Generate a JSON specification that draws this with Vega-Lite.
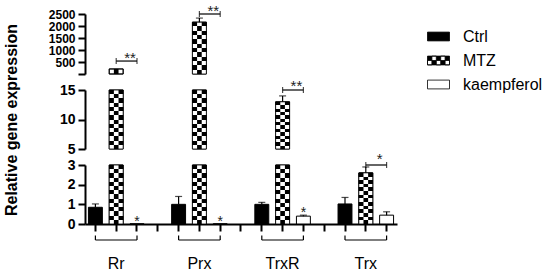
{
  "$schema": "https://vega.github.io/schema/vega-lite/v6.json",
  "background": "white",
  "padding": {"left": 3, "top": 4, "right": 0, "bottom": 0},
  "config": {
    "view": {"stroke": null},
    "font": "Liberation Sans",
    "axis": {"domainColor": "black", "domainWidth": 2, "tickColor": "black", "tickWidth": 2, "tickSize": 7, "labelFont": "Liberation Sans", "labelColor": "black", "grid": false, "titleFont": "Liberation Sans", "titleColor": "black"}
  },
  "datasets": {
    "bars": [
      {"gene": "Rr", "series": "Ctrl", "slot": "Rr Ctrl", "value": 0.85, "hi": 1.02},
      {"gene": "Rr", "series": "MTZ", "slot": "Rr MTZ", "value": 210, "hi": 210},
      {"gene": "Rr", "series": "kaempferol", "slot": "Rr kaempferol", "value": 0.01, "hi": 0.01, "sig": "*"},
      {"gene": "Prx", "series": "Ctrl", "slot": "Prx Ctrl", "value": 1.0, "hi": 1.4},
      {"gene": "Prx", "series": "MTZ", "slot": "Prx MTZ", "value": 2160, "hi": 2330},
      {"gene": "Prx", "series": "kaempferol", "slot": "Prx kaempferol", "value": 0.01, "hi": 0.01, "sig": "*"},
      {"gene": "TrxR", "series": "Ctrl", "slot": "TrxR Ctrl", "value": 1.0, "hi": 1.1},
      {"gene": "TrxR", "series": "MTZ", "slot": "TrxR MTZ", "value": 13.0, "hi": 14.0},
      {"gene": "TrxR", "series": "kaempferol", "slot": "TrxR kaempferol", "value": 0.4, "hi": 0.45, "sig": "*"},
      {"gene": "Trx", "series": "Ctrl", "slot": "Trx Ctrl", "value": 1.02, "hi": 1.35},
      {"gene": "Trx", "series": "MTZ", "slot": "Trx MTZ", "value": 2.6, "hi": 2.9},
      {"gene": "Trx", "series": "kaempferol", "slot": "Trx kaempferol", "value": 0.45, "hi": 0.62}
    ],
    "sig": [
      {"from": "Rr MTZ", "to": "Rr kaempferol", "level": 540, "label": "**"},
      {"from": "Prx MTZ", "to": "Prx kaempferol", "level": 2570, "label": "**"},
      {"from": "TrxR MTZ", "to": "TrxR kaempferol", "level": 15.1, "label": "**"},
      {"from": "Trx MTZ", "to": "Trx kaempferol", "level": 3.15, "label": "*"}
    ],
    "groups": [
      {"gene": "Rr", "from": "Rr Ctrl", "to": "Rr kaempferol"},
      {"gene": "Prx", "from": "Prx Ctrl", "to": "Prx kaempferol"},
      {"gene": "TrxR", "from": "TrxR Ctrl", "to": "TrxR kaempferol"},
      {"gene": "Trx", "from": "Trx Ctrl", "to": "Trx kaempferol"}
    ]
  },
  "spacing": 16,
  "bounds": "flush",
  "vconcat": [
    {
      "width": 312, "height": 60,
      "layer": [
        {
          "data": {"name": "bars"},
          "transform": [{"filter": "datum.value > 15"}],
          "mark": {"type": "bar", "stroke": "black", "strokeWidth": 1},
          "encoding": {
            "x": {"field": "slot", "type": "nominal", "scale": {"domain": ["Rr Ctrl","Rr MTZ","Rr kaempferol","g1","Prx Ctrl","Prx MTZ","Prx kaempferol","g2","TrxR Ctrl","TrxR MTZ","TrxR kaempferol","g3","Trx Ctrl","Trx MTZ","Trx kaempferol"], "paddingInner": 0.33, "paddingOuter": 0.165}, "axis": null},
            "y": {"field": "value", "type": "quantitative", "stack": null, "scale": {"domain": [0, 2500], "nice": false, "clamp": true}, "axis": {"title": null, "values": [0, 500, 1000, 1500, 2000, 2500], "tickCount": 20, "format": "d", "labelExpr": "datum.value == 0 ? '' : datum.label", "labelFontSize": 12, "labelFontWeight": "bold", "labelPadding": 3, "labelOverlap": false, "labelFlush": false}},
            "fill": {"condition": {"test": "datum.series == 'Ctrl'", "value": "black"}, "value": "white"}
          }
        },
        {
          "data": {"name": "bars"},
          "transform": [{"filter": "datum.series == 'MTZ' && datum.value > 1000"}],
          "mark": {"type": "bar", "fill": {"gradient": "linear", "x1": 0, "y1": 0, "x2": 0, "y2": 1, "stops": [
            {"offset": 0, "color": "#000"}, {"offset": 0.0833, "color": "#000"}, {"offset": 0.0833, "color": "#fff"}, {"offset": 0.1667, "color": "#fff"},
            {"offset": 0.1667, "color": "#000"}, {"offset": 0.25, "color": "#000"}, {"offset": 0.25, "color": "#fff"}, {"offset": 0.3333, "color": "#fff"},
            {"offset": 0.3333, "color": "#000"}, {"offset": 0.4167, "color": "#000"}, {"offset": 0.4167, "color": "#fff"}, {"offset": 0.5, "color": "#fff"},
            {"offset": 0.5, "color": "#000"}, {"offset": 0.5833, "color": "#000"}, {"offset": 0.5833, "color": "#fff"}, {"offset": 0.6667, "color": "#fff"},
            {"offset": 0.6667, "color": "#000"}, {"offset": 0.75, "color": "#000"}, {"offset": 0.75, "color": "#fff"}, {"offset": 0.8333, "color": "#fff"},
            {"offset": 0.8333, "color": "#000"}, {"offset": 0.9167, "color": "#000"}, {"offset": 0.9167, "color": "#fff"}, {"offset": 1, "color": "#fff"}]}},
          "encoding": {
            "x": {"field": "slot", "type": "nominal"},
            "y": {"field": "value", "type": "quantitative", "stack": null}
          }
        },
        {
          "data": {"name": "bars"},
          "transform": [{"filter": "datum.series == 'MTZ' && datum.value > 1000"}],
          "mark": {"type": "bar", "width": {"band": 0.3333}, "fill": {"gradient": "linear", "x1": 0, "y1": 0, "x2": 0, "y2": 1, "stops": [
            {"offset": 0, "color": "#fff"}, {"offset": 0.0833, "color": "#fff"}, {"offset": 0.0833, "color": "#000"}, {"offset": 0.1667, "color": "#000"},
            {"offset": 0.1667, "color": "#fff"}, {"offset": 0.25, "color": "#fff"}, {"offset": 0.25, "color": "#000"}, {"offset": 0.3333, "color": "#000"},
            {"offset": 0.3333, "color": "#fff"}, {"offset": 0.4167, "color": "#fff"}, {"offset": 0.4167, "color": "#000"}, {"offset": 0.5, "color": "#000"},
            {"offset": 0.5, "color": "#fff"}, {"offset": 0.5833, "color": "#fff"}, {"offset": 0.5833, "color": "#000"}, {"offset": 0.6667, "color": "#000"},
            {"offset": 0.6667, "color": "#fff"}, {"offset": 0.75, "color": "#fff"}, {"offset": 0.75, "color": "#000"}, {"offset": 0.8333, "color": "#000"},
            {"offset": 0.8333, "color": "#fff"}, {"offset": 0.9167, "color": "#fff"}, {"offset": 0.9167, "color": "#000"}, {"offset": 1, "color": "#000"}]}},
          "encoding": {
            "x": {"field": "slot", "type": "nominal"},
            "y": {"field": "value", "type": "quantitative", "stack": null}
          }
        },
        {
          "data": {"name": "bars"},
          "transform": [{"filter": "datum.series == 'MTZ' && datum.value > 15 && datum.value <= 1000"}],
          "mark": {"type": "bar", "width": {"band": 0.3333}, "fill": "black"},
          "encoding": {
            "x": {"field": "slot", "type": "nominal"},
            "y": {"field": "value", "type": "quantitative", "stack": null}
          }
        },
        {
          "data": {"name": "bars"},
          "transform": [{"filter": "datum.series == 'MTZ' && datum.value > 15"}],
          "mark": {"type": "bar", "fill": null, "stroke": "black", "strokeWidth": 0.8},
          "encoding": {
            "x": {"field": "slot", "type": "nominal"},
            "y": {"field": "value", "type": "quantitative", "stack": null}
          }
        },
        {
          "data": {"name": "bars"},
          "transform": [{"filter": "datum.value > 15 && datum.hi > datum.value"}],
          "mark": {"type": "rule", "color": "black", "strokeWidth": 1.2},
          "encoding": {
            "x": {"field": "slot", "type": "nominal"},
            "y": {"field": "value", "type": "quantitative"},
            "y2": {"field": "hi"}
          }
        },
        {
          "data": {"name": "bars"},
          "transform": [{"filter": "datum.value > 15 && datum.hi > datum.value"}],
          "mark": {"type": "tick", "color": "black", "size": 7, "thickness": 1.2},
          "encoding": {
            "x": {"field": "slot", "type": "nominal"},
            "y": {"field": "hi", "type": "quantitative"}
          }
        },
        {
          "data": {"name": "sig"},
          "transform": [{"filter": "datum.level > 100"}],
          "mark": {"type": "rule", "color": "black", "strokeWidth": 1.2},
          "encoding": {
            "x": {"field": "from", "type": "nominal"},
            "x2": {"field": "to"},
            "y": {"field": "level", "type": "quantitative"}
          }
        },
        {
          "data": {"name": "sig"},
          "transform": [{"filter": "datum.level > 100"}],
          "mark": {"type": "tick", "orient": "vertical", "color": "black", "size": 6, "thickness": 1.2},
          "encoding": {
            "x": {"field": "from", "type": "nominal"},
            "y": {"field": "level", "type": "quantitative"}
          }
        },
        {
          "data": {"name": "sig"},
          "transform": [{"filter": "datum.level > 100"}],
          "mark": {"type": "tick", "orient": "vertical", "color": "black", "size": 6, "thickness": 1.2},
          "encoding": {
            "x": {"field": "to", "type": "nominal"},
            "y": {"field": "level", "type": "quantitative"}
          }
        },
        {
          "data": {"name": "sig"},
          "transform": [{"filter": "datum.level > 100"}],
          "mark": {"type": "text", "fontSize": 15, "color": "#222", "baseline": "alphabetic", "dy": 2},
          "encoding": {
            "x": {"field": "to", "type": "nominal", "bandPosition": 0},
            "y": {"field": "level", "type": "quantitative"},
            "text": {"field": "label"}
          }
        }
      ]
    },
    {
      "width": 312, "height": 59,
      "layer": [
        {
          "data": {"name": "bars"},
          "transform": [{"filter": "datum.value > 5"}],
          "mark": {"type": "bar", "stroke": "black", "strokeWidth": 1},
          "encoding": {
            "x": {"field": "slot", "type": "nominal", "scale": {"domain": ["Rr Ctrl","Rr MTZ","Rr kaempferol","g1","Prx Ctrl","Prx MTZ","Prx kaempferol","g2","TrxR Ctrl","TrxR MTZ","TrxR kaempferol","g3","Trx Ctrl","Trx MTZ","Trx kaempferol"], "paddingInner": 0.33, "paddingOuter": 0.165}, "axis": null},
            "y": {"field": "value", "type": "quantitative", "stack": null, "scale": {"domain": [5, 15], "nice": false, "zero": false, "clamp": true}, "axis": {"title": "Relative gene expression", "titleFontSize": 16, "titleFontWeight": "bold", "titlePadding": 40, "values": [5, 10, 15], "tickCount": 20, "format": "d", "labelFontSize": 14, "labelFontWeight": "bold", "labelPadding": 3, "labelOverlap": false, "labelFlush": false}},
            "y2": {"datum": 5},
            "fill": {"condition": {"test": "datum.series == 'Ctrl'", "value": "black"}, "value": "white"}
          }
        },
        {
          "data": {"name": "bars"},
          "transform": [{"filter": "datum.series == 'MTZ' && datum.value > 5"}],
          "mark": {"type": "bar", "fill": {"gradient": "linear", "x1": 0, "y1": 0, "x2": 0, "y2": 1, "stops": [
            {"offset": 0, "color": "#000"}, {"offset": 0.0714, "color": "#000"}, {"offset": 0.0714, "color": "#fff"}, {"offset": 0.1429, "color": "#fff"},
            {"offset": 0.1429, "color": "#000"}, {"offset": 0.2143, "color": "#000"}, {"offset": 0.2143, "color": "#fff"}, {"offset": 0.2857, "color": "#fff"},
            {"offset": 0.2857, "color": "#000"}, {"offset": 0.3571, "color": "#000"}, {"offset": 0.3571, "color": "#fff"}, {"offset": 0.4286, "color": "#fff"},
            {"offset": 0.4286, "color": "#000"}, {"offset": 0.5, "color": "#000"}, {"offset": 0.5, "color": "#fff"}, {"offset": 0.5714, "color": "#fff"},
            {"offset": 0.5714, "color": "#000"}, {"offset": 0.6429, "color": "#000"}, {"offset": 0.6429, "color": "#fff"}, {"offset": 0.7143, "color": "#fff"},
            {"offset": 0.7143, "color": "#000"}, {"offset": 0.7857, "color": "#000"}, {"offset": 0.7857, "color": "#fff"}, {"offset": 0.8571, "color": "#fff"},
            {"offset": 0.8571, "color": "#000"}, {"offset": 0.9286, "color": "#000"}, {"offset": 0.9286, "color": "#fff"}, {"offset": 1, "color": "#fff"}]}},
          "encoding": {
            "x": {"field": "slot", "type": "nominal"},
            "y": {"field": "value", "type": "quantitative", "stack": null},
            "y2": {"datum": 5}
          }
        },
        {
          "data": {"name": "bars"},
          "transform": [{"filter": "datum.series == 'MTZ' && datum.value > 5"}],
          "mark": {"type": "bar", "width": {"band": 0.3333}, "fill": {"gradient": "linear", "x1": 0, "y1": 0, "x2": 0, "y2": 1, "stops": [
            {"offset": 0, "color": "#fff"}, {"offset": 0.0714, "color": "#fff"}, {"offset": 0.0714, "color": "#000"}, {"offset": 0.1429, "color": "#000"},
            {"offset": 0.1429, "color": "#fff"}, {"offset": 0.2143, "color": "#fff"}, {"offset": 0.2143, "color": "#000"}, {"offset": 0.2857, "color": "#000"},
            {"offset": 0.2857, "color": "#fff"}, {"offset": 0.3571, "color": "#fff"}, {"offset": 0.3571, "color": "#000"}, {"offset": 0.4286, "color": "#000"},
            {"offset": 0.4286, "color": "#fff"}, {"offset": 0.5, "color": "#fff"}, {"offset": 0.5, "color": "#000"}, {"offset": 0.5714, "color": "#000"},
            {"offset": 0.5714, "color": "#fff"}, {"offset": 0.6429, "color": "#fff"}, {"offset": 0.6429, "color": "#000"}, {"offset": 0.7143, "color": "#000"},
            {"offset": 0.7143, "color": "#fff"}, {"offset": 0.7857, "color": "#fff"}, {"offset": 0.7857, "color": "#000"}, {"offset": 0.8571, "color": "#000"},
            {"offset": 0.8571, "color": "#fff"}, {"offset": 0.9286, "color": "#fff"}, {"offset": 0.9286, "color": "#000"}, {"offset": 1, "color": "#000"}]}},
          "encoding": {
            "x": {"field": "slot", "type": "nominal"},
            "y": {"field": "value", "type": "quantitative", "stack": null},
            "y2": {"datum": 5}
          }
        },
        {
          "data": {"name": "bars"},
          "transform": [{"filter": "datum.series == 'MTZ' && datum.value > 5"}],
          "mark": {"type": "bar", "fill": null, "stroke": "black", "strokeWidth": 0.8},
          "encoding": {
            "x": {"field": "slot", "type": "nominal"},
            "y": {"field": "value", "type": "quantitative", "stack": null},
            "y2": {"datum": 5}
          }
        },
        {
          "data": {"name": "bars"},
          "transform": [{"filter": "datum.value > 5 && datum.hi <= 15 && datum.hi > datum.value"}],
          "mark": {"type": "rule", "color": "black", "strokeWidth": 1.2},
          "encoding": {
            "x": {"field": "slot", "type": "nominal"},
            "y": {"field": "value", "type": "quantitative"},
            "y2": {"field": "hi"}
          }
        },
        {
          "data": {"name": "bars"},
          "transform": [{"filter": "datum.value > 5 && datum.hi <= 15 && datum.hi > datum.value"}],
          "mark": {"type": "tick", "color": "black", "size": 7, "thickness": 1.2},
          "encoding": {
            "x": {"field": "slot", "type": "nominal"},
            "y": {"field": "hi", "type": "quantitative"}
          }
        },
        {
          "data": {"name": "sig"},
          "transform": [{"filter": "datum.level > 4 && datum.level < 100"}],
          "mark": {"type": "rule", "color": "black", "strokeWidth": 1.2},
          "encoding": {
            "x": {"field": "from", "type": "nominal"},
            "x2": {"field": "to"},
            "y": {"field": "level", "type": "quantitative"}
          }
        },
        {
          "data": {"name": "sig"},
          "transform": [{"filter": "datum.level > 4 && datum.level < 100"}],
          "mark": {"type": "tick", "orient": "vertical", "color": "black", "size": 6, "thickness": 1.2},
          "encoding": {
            "x": {"field": "from", "type": "nominal"},
            "y": {"field": "level", "type": "quantitative"}
          }
        },
        {
          "data": {"name": "sig"},
          "transform": [{"filter": "datum.level > 4 && datum.level < 100"}],
          "mark": {"type": "tick", "orient": "vertical", "color": "black", "size": 6, "thickness": 1.2},
          "encoding": {
            "x": {"field": "to", "type": "nominal"},
            "y": {"field": "level", "type": "quantitative"}
          }
        },
        {
          "data": {"name": "sig"},
          "transform": [{"filter": "datum.level > 4 && datum.level < 100"}],
          "mark": {"type": "text", "fontSize": 15, "color": "#222", "baseline": "alphabetic", "dy": 1},
          "encoding": {
            "x": {"field": "to", "type": "nominal", "bandPosition": 0},
            "y": {"field": "level", "type": "quantitative"},
            "text": {"field": "label"}
          }
        }
      ]
    },
    {
      "width": 312, "height": 59,
      "layer": [
        {
          "data": {"name": "bars"},
          "mark": {"type": "bar", "stroke": "black", "strokeWidth": 1},
          "encoding": {
            "x": {"field": "slot", "type": "nominal", "scale": {"domain": ["Rr Ctrl","Rr MTZ","Rr kaempferol","g1","Prx Ctrl","Prx MTZ","Prx kaempferol","g2","TrxR Ctrl","TrxR MTZ","TrxR kaempferol","g3","Trx Ctrl","Trx MTZ","Trx kaempferol"], "paddingInner": 0.33, "paddingOuter": 0.165}, "axis": {"title": null, "labelAngle": 0, "labelExpr": "indexof(datum.value, 'MTZ') >= 0 ? split(datum.value, ' ')[0] : ''", "labelFontSize": 16, "labelPadding": 24, "labelFontWeight": "normal"}},
            "y": {"field": "value", "type": "quantitative", "stack": null, "scale": {"domain": [0, 3], "nice": false, "clamp": true}, "axis": {"title": null, "values": [0, 1, 2, 3], "tickCount": 20, "format": "d", "labelFontSize": 14, "labelFontWeight": "bold", "labelPadding": 3, "labelOverlap": false, "labelFlush": false}},
            "fill": {"field": "series", "type": "nominal", "scale": {"domain": ["Ctrl", "MTZ", "kaempferol"], "range": ["#000000", "#000000", "#ffffff"]},
              "legend": {"orient": "none", "legendX": 342, "legendY": 11, "title": null, "symbolType": "M-1,-0.4H1V0.4H-1Z", "symbolSize": 484, "symbolStrokeColor": "black", "symbolStrokeWidth": 0.8, "labelFontSize": 16, "labelFont": "Liberation Sans", "labelColor": "black", "labelOffset": 13, "rowPadding": 4,
                "encode": {"symbols": {"update": {
                  "shape": [
                    {"test": "datum.value === 'MTZ'", "value": "M-1,-0.4H1V0.4H-1Z M-0.6,-0.4V0H-0.2V-0.4Z M0.2,-0.4V0H0.6V-0.4Z M-1,0V0.4H-0.6V0Z M-0.2,0V0.4H0.2V0Z M0.6,0V0.4H1V0Z"},
                    {"value": "M-1,-0.4H1V0.4H-1Z"}],
                  "stroke": {"value": "black"},
                  "opacity": {"value": 1}
                }}}}}
          }
        },
        {
          "data": {"name": "bars"},
          "transform": [{"filter": "datum.series == 'MTZ'"}],
          "mark": {"type": "bar", "fill": {"gradient": "linear", "x1": 0, "y1": 0, "x2": 0, "y2": 1, "stops": [
            {"offset": 0, "color": "#000"}, {"offset": 0.0714, "color": "#000"}, {"offset": 0.0714, "color": "#fff"}, {"offset": 0.1429, "color": "#fff"},
            {"offset": 0.1429, "color": "#000"}, {"offset": 0.2143, "color": "#000"}, {"offset": 0.2143, "color": "#fff"}, {"offset": 0.2857, "color": "#fff"},
            {"offset": 0.2857, "color": "#000"}, {"offset": 0.3571, "color": "#000"}, {"offset": 0.3571, "color": "#fff"}, {"offset": 0.4286, "color": "#fff"},
            {"offset": 0.4286, "color": "#000"}, {"offset": 0.5, "color": "#000"}, {"offset": 0.5, "color": "#fff"}, {"offset": 0.5714, "color": "#fff"},
            {"offset": 0.5714, "color": "#000"}, {"offset": 0.6429, "color": "#000"}, {"offset": 0.6429, "color": "#fff"}, {"offset": 0.7143, "color": "#fff"},
            {"offset": 0.7143, "color": "#000"}, {"offset": 0.7857, "color": "#000"}, {"offset": 0.7857, "color": "#fff"}, {"offset": 0.8571, "color": "#fff"},
            {"offset": 0.8571, "color": "#000"}, {"offset": 0.9286, "color": "#000"}, {"offset": 0.9286, "color": "#fff"}, {"offset": 1, "color": "#fff"}]}},
          "encoding": {
            "x": {"field": "slot", "type": "nominal"},
            "y": {"field": "value", "type": "quantitative", "stack": null}
          }
        },
        {
          "data": {"name": "bars"},
          "transform": [{"filter": "datum.series == 'MTZ'"}],
          "mark": {"type": "bar", "width": {"band": 0.3333}, "fill": {"gradient": "linear", "x1": 0, "y1": 0, "x2": 0, "y2": 1, "stops": [
            {"offset": 0, "color": "#fff"}, {"offset": 0.0714, "color": "#fff"}, {"offset": 0.0714, "color": "#000"}, {"offset": 0.1429, "color": "#000"},
            {"offset": 0.1429, "color": "#fff"}, {"offset": 0.2143, "color": "#fff"}, {"offset": 0.2143, "color": "#000"}, {"offset": 0.2857, "color": "#000"},
            {"offset": 0.2857, "color": "#fff"}, {"offset": 0.3571, "color": "#fff"}, {"offset": 0.3571, "color": "#000"}, {"offset": 0.4286, "color": "#000"},
            {"offset": 0.4286, "color": "#fff"}, {"offset": 0.5, "color": "#fff"}, {"offset": 0.5, "color": "#000"}, {"offset": 0.5714, "color": "#000"},
            {"offset": 0.5714, "color": "#fff"}, {"offset": 0.6429, "color": "#fff"}, {"offset": 0.6429, "color": "#000"}, {"offset": 0.7143, "color": "#000"},
            {"offset": 0.7143, "color": "#fff"}, {"offset": 0.7857, "color": "#fff"}, {"offset": 0.7857, "color": "#000"}, {"offset": 0.8571, "color": "#000"},
            {"offset": 0.8571, "color": "#fff"}, {"offset": 0.9286, "color": "#fff"}, {"offset": 0.9286, "color": "#000"}, {"offset": 1, "color": "#000"}]}},
          "encoding": {
            "x": {"field": "slot", "type": "nominal"},
            "y": {"field": "value", "type": "quantitative", "stack": null}
          }
        },
        {
          "data": {"name": "bars"},
          "transform": [{"filter": "datum.series == 'MTZ'"}],
          "mark": {"type": "bar", "fill": null, "stroke": "black", "strokeWidth": 0.8},
          "encoding": {
            "x": {"field": "slot", "type": "nominal"},
            "y": {"field": "value", "type": "quantitative", "stack": null}
          }
        },
        {
          "data": {"name": "bars"},
          "transform": [{"filter": "datum.hi <= 3 && datum.hi > datum.value"}],
          "mark": {"type": "rule", "color": "black", "strokeWidth": 1.2},
          "encoding": {
            "x": {"field": "slot", "type": "nominal"},
            "y": {"field": "value", "type": "quantitative"},
            "y2": {"field": "hi"}
          }
        },
        {
          "data": {"name": "bars"},
          "transform": [{"filter": "datum.hi <= 3 && datum.hi > datum.value"}],
          "mark": {"type": "tick", "color": "black", "size": 7, "thickness": 1.2},
          "encoding": {
            "x": {"field": "slot", "type": "nominal"},
            "y": {"field": "hi", "type": "quantitative"}
          }
        },
        {
          "data": {"name": "bars"},
          "transform": [{"filter": "datum.sig"}],
          "mark": {"type": "text", "fontSize": 14, "color": "#222", "baseline": "alphabetic", "dy": 2},
          "encoding": {
            "x": {"field": "slot", "type": "nominal"},
            "y": {"field": "hi", "type": "quantitative"},
            "text": {"field": "sig"}
          }
        },
        {
          "data": {"name": "sig"},
          "transform": [{"filter": "datum.level <= 4"}],
          "mark": {"type": "rule", "color": "black", "strokeWidth": 1.2},
          "encoding": {
            "x": {"field": "from", "type": "nominal"},
            "x2": {"field": "to"},
            "y": {"field": "level", "type": "quantitative"}
          }
        },
        {
          "data": {"name": "sig"},
          "transform": [{"filter": "datum.level <= 4"}],
          "mark": {"type": "tick", "orient": "vertical", "color": "black", "size": 6, "thickness": 1.2},
          "encoding": {
            "x": {"field": "from", "type": "nominal"},
            "y": {"field": "level", "type": "quantitative"}
          }
        },
        {
          "data": {"name": "sig"},
          "transform": [{"filter": "datum.level <= 4"}],
          "mark": {"type": "tick", "orient": "vertical", "color": "black", "size": 6, "thickness": 1.2},
          "encoding": {
            "x": {"field": "to", "type": "nominal"},
            "y": {"field": "level", "type": "quantitative"}
          }
        },
        {
          "data": {"name": "sig"},
          "transform": [{"filter": "datum.level <= 4"}],
          "mark": {"type": "text", "fontSize": 15, "color": "#222", "baseline": "alphabetic", "dy": -1},
          "encoding": {
            "x": {"field": "to", "type": "nominal", "bandPosition": 0},
            "y": {"field": "level", "type": "quantitative"},
            "text": {"field": "label"}
          }
        }
      ]
    },
    {
      "width": 312, "height": 10,
      "layer": [
        {
          "data": {"name": "groups"},
          "mark": {"type": "rule", "color": "black", "strokeWidth": 1.2},
          "encoding": {
            "x": {"field": "from", "type": "nominal", "scale": {"domain": ["Rr Ctrl","Rr MTZ","Rr kaempferol","g1","Prx Ctrl","Prx MTZ","Prx kaempferol","g2","TrxR Ctrl","TrxR MTZ","TrxR kaempferol","g3","Trx Ctrl","Trx MTZ","Trx kaempferol"], "paddingInner": 0.33, "paddingOuter": 0.165}, "axis": null},
            "x2": {"field": "to"},
            "y": {"datum": 1.0, "type": "quantitative", "scale": {"domain": [0, 1], "nice": false}, "axis": null}
          }
        },
        {
          "data": {"name": "groups"},
          "mark": {"type": "rule", "color": "black", "strokeWidth": 1.2},
          "encoding": {
            "x": {"field": "from", "type": "nominal"},
            "y": {"datum": 1.0, "type": "quantitative"},
            "y2": {"datum": 1.45}
          }
        },
        {
          "data": {"name": "groups"},
          "mark": {"type": "rule", "color": "black", "strokeWidth": 1.2},
          "encoding": {
            "x": {"field": "to", "type": "nominal"},
            "y": {"datum": 1.0, "type": "quantitative"},
            "y2": {"datum": 1.45}
          }
        }
      ]
    }
  ]
}
